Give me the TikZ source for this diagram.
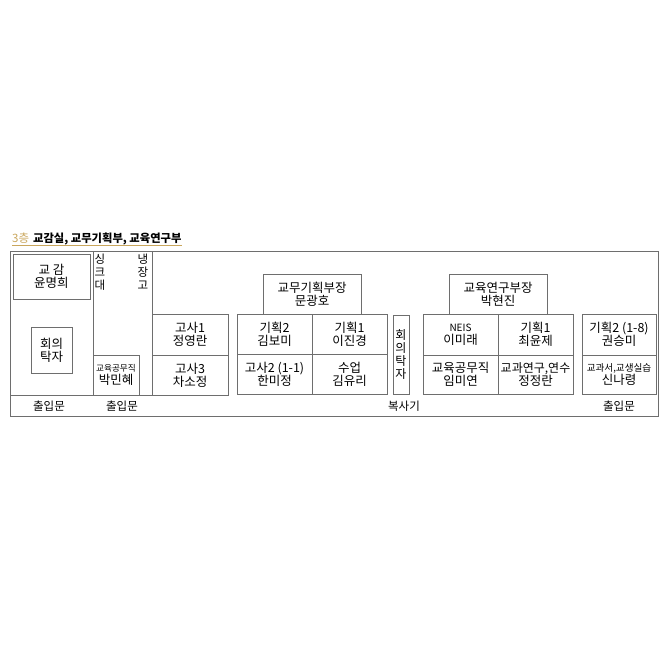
\documentclass[tikz,border=0pt]{standalone}
\usepackage{fontspec}
\setmainfont{Noto Sans CJK KR}
\definecolor{linegray}{HTML}{6E6E6E}
\definecolor{gold}{HTML}{C9A65C}
\newcommand{\sm}[1]{{\fontsize{8.6}{10}\selectfont #1}}
\begin{document}
\begin{tikzpicture}[x=1pt,y=-1pt,
  wall/.style={draw=linegray, line width=0.9pt},
  room/.style={draw=linegray, line width=0.9pt, inner sep=0pt, align=center,
    font=\fontsize{12.5}{13}\selectfont},
  lbl/.style={inner sep=0pt, align=center, font=\fontsize{11.5}{13}\selectfont}]
\useasboundingbox (0,0) rectangle (667,667);
% title
\node[inner sep=0pt, anchor=base west, text=gold, font=\fontsize{11.5}{12}\selectfont] (floor) at (12,242.5) {3층};
\node[inner sep=0pt, anchor=base west, font=\fontsize{11.3}{12}\selectfont\bfseries] (title) at (33,242.5) {교감실, 교무기획부, 교육연구부};
\coordinate (ulA) at (12,245);
\coordinate (ulB) at (182,245);
\draw[gold, line width=0.9pt] (ulA) -- (ulB);
% outer walls
\coordinate (o1) at (10,251);
\coordinate (o2) at (658,416);
\draw[wall] (o1) rectangle (o2);
\coordinate (v1t) at (93,251); \coordinate (v1b) at (93,395);
\coordinate (v2t) at (152,251); \coordinate (v2b) at (152,395);
\coordinate (hL) at (10,395);
\draw[wall] (v1t) -- (v1b);
\draw[wall] (v2t) -- (v2b);
\draw[wall] (hL) -- (v2b);
% left area
\node[room, minimum width=77pt, minimum height=45pt] (vp) at (51.5,276.5) {교 감\\윤명희};
\node[room, minimum width=41pt, minimum height=46pt] (tbl1) at (51.5,350) {회의\\탁자};
\node[lbl] (sink) at (100,272) {싱\\크\\대};
\node[lbl] (fridge) at (143,272) {냉\\장\\고};
\node[room, minimum width=46pt, minimum height=40pt] (pmh) at (116,375) {\sm{교육공무직}\\박민혜};
\node[room, minimum width=76pt, minimum height=41pt] (g1) at (190,334.5) {고사1\\정영란};
\node[room, minimum width=76pt, minimum height=40pt] (g3) at (190,375) {고사3\\차소정};
% planning department
\node[room, minimum width=98pt, minimum height=40pt] (head1) at (312,294) {교무기획부장\\문광호};
\node[room, minimum width=75pt, minimum height=40pt] (p2) at (274.5,334) {기획2\\김보미};
\node[room, minimum width=75pt, minimum height=40pt] (p1) at (349.5,334) {기획1\\이진경};
\node[room, minimum width=75pt, minimum height=40pt] (g2) at (274.5,374) {고사2 (1-1)\\한미정};
\node[room, minimum width=75pt, minimum height=40pt] (cls) at (349.5,374) {수업\\김유리};
\node[room, minimum width=16pt, minimum height=79pt, font=\fontsize{12}{13.3}\selectfont] (tbl2) at (401,354.5) {회\\의\\탁\\자};
% research department
\node[room, minimum width=98pt, minimum height=40pt] (head2) at (498,294) {교육연구부장\\박현진};
\node[room, minimum width=75pt, minimum height=41pt] (neis) at (460.5,334.5) {{\fontsize{10}{10}\selectfont NEIS}\\이미래};
\node[room, minimum width=75pt, minimum height=41pt] (r1) at (535.5,334.5) {기획1\\최윤제};
\node[room, minimum width=75pt, minimum height=39pt] (imy) at (460.5,374.5) {교육공무직\\임미연};
\node[room, minimum width=75pt, minimum height=39pt, font=\fontsize{12}{13}\selectfont] (jjr) at (535.5,374.5) {교과연구,연수\\{\fontsize{12.5}{13}\selectfont 정정란}};
\node[room, minimum width=74pt, minimum height=41pt] (r2) at (619,334.5) {기획2 (1-8)\\권승미};
\node[room, minimum width=74pt, minimum height=39pt] (snr) at (619,374.5) {{\fontsize{9.6}{10}\selectfont 교과서,교생실습}\\신나령};
% bottom labels
\node[lbl] (door1) at (49,406) {출입문};
\node[lbl] (door2) at (122,406) {출입문};
\node[lbl] (copier) at (404,406) {복사기};
\node[lbl] (door3) at (619,406) {출입문};
\end{tikzpicture}
\end{document}
